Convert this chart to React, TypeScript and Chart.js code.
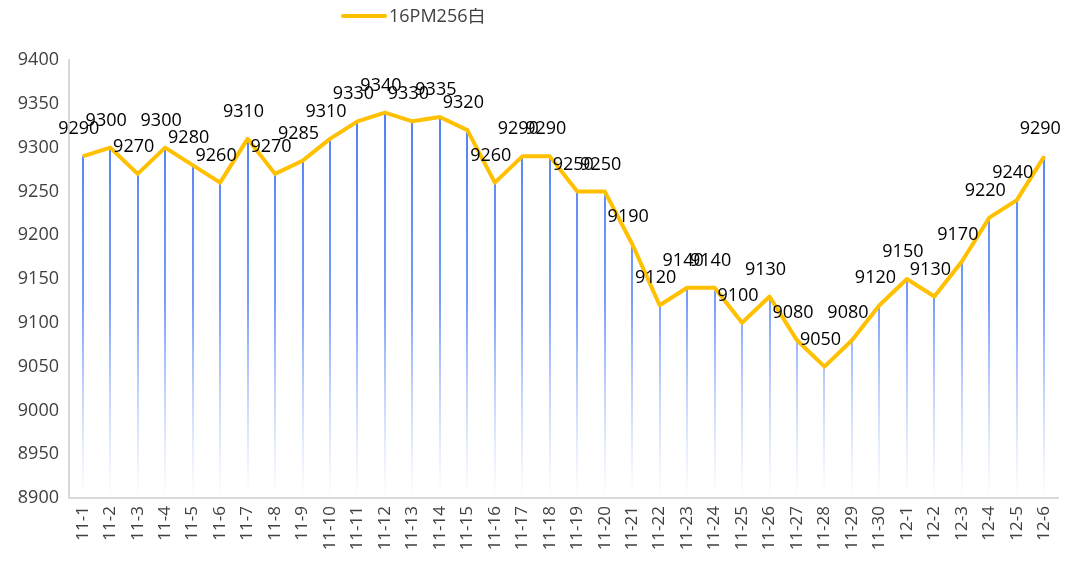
import React, { useEffect, useRef } from "react";
import { Chart, registerables } from "chart.js";

Chart.register(...registerables);

const categories = [
  "11-1", "11-2", "11-3", "11-4", "11-5", "11-6", "11-7", "11-8", "11-9", "11-10",
  "11-11", "11-12", "11-13", "11-14", "11-15", "11-16", "11-17", "11-18", "11-19", "11-20",
  "11-21", "11-22", "11-23", "11-24", "11-25", "11-26", "11-27", "11-28", "11-29", "11-30",
  "12-1", "12-2", "12-3", "12-4", "12-5", "12-6",
];

const prices = [
  9290, 9300, 9270, 9300, 9280, 9260, 9310, 9270, 9285, 9310,
  9330, 9340, 9330, 9335, 9320, 9260, 9290, 9290, 9250, 9250,
  9190, 9120, 9140, 9140, 9100, 9130, 9080, 9050, 9080, 9120,
  9150, 9130, 9170, 9220, 9240, 9290,
];

const seriesName = "16PM256白";
const yMin = 8900;
const yMax = 9400;
const yStep = 50;

const FONT = "'Open Sans', 'Noto Sans', 'Noto Sans CJK SC', sans-serif";

const dropLinePlugin = {
  id: "dropLines",
  beforeDatasetsDraw(chart: any) {
    const { ctx, chartArea } = chart;
    const meta = chart.getDatasetMeta(0);
    const grad = ctx.createLinearGradient(0, chartArea.top, 0, chartArea.bottom);
    grad.addColorStop(0, "rgba(70,120,245,1)");
    grad.addColorStop(0.55, "rgba(95,140,248,0.85)");
    grad.addColorStop(1, "rgba(150,180,250,0.0)");
    ctx.save();
    ctx.strokeStyle = grad;
    ctx.lineWidth = 2;
    meta.data.forEach((pt: any) => {
      ctx.beginPath();
      ctx.moveTo(Math.round(pt.x), pt.y);
      ctx.lineTo(Math.round(pt.x), chartArea.bottom);
      ctx.stroke();
    });
    ctx.restore();
  },
};

const labelPlugin = {
  id: "pointLabels",
  afterDatasetsDraw(chart: any) {
    const { ctx } = chart;
    const meta = chart.getDatasetMeta(0);
    const data = chart.data.datasets[0].data as number[];
    ctx.save();
    ctx.font = `18px ${FONT}`;
    ctx.fillStyle = "#000000";
    ctx.textAlign = "center";
    ctx.textBaseline = "bottom";
    meta.data.forEach((pt: any, i: number) => {
      ctx.fillText(String(data[i]), pt.x - 4, pt.y - 18);
    });
    ctx.restore();
  },
};

const legendPlugin = {
  id: "customLegend",
  afterDraw(chart: any) {
    const { ctx } = chart;
    ctx.save();
    ctx.strokeStyle = "#FFC000";
    ctx.lineWidth = 4;
    ctx.lineCap = "round";
    ctx.beginPath();
    ctx.moveTo(335, 8);
    ctx.lineTo(377, 8);
    ctx.stroke();
    ctx.font = `18px ${FONT}`;
    ctx.fillStyle = "#404040";
    ctx.textAlign = "left";
    ctx.textBaseline = "middle";
    ctx.fillText(seriesName, 381, 9);
    ctx.restore();
  },
};

export default function App() {
  const canvasRef = useRef<HTMLCanvasElement | null>(null);

  useEffect(() => {
    if (!canvasRef.current) return;
    const chart = new Chart(canvasRef.current, {
      type: "line",
      data: {
        labels: categories,
        datasets: [
          {
            label: seriesName,
            data: prices,
            borderColor: "#FFC000",
            backgroundColor: "#FFC000",
            borderWidth: 4,
            pointRadius: 0,
            tension: 0,
            borderJoinStyle: "round",
          },
        ],
      },
      options: {
        animation: false,
        responsive: true,
        maintainAspectRatio: false,
        layout: { padding: { top: 52, right: 8, left: 0, bottom: 0 } },
        plugins: {
          legend: { display: false },
          tooltip: { enabled: false },
        },
        scales: {
          x: {
            offset: true,
            grid: { display: false, drawTicks: false },
            border: { display: true, color: "#D9D9D9", width: 2 },
            ticks: {
              autoSkip: false,
              maxRotation: 90,
              minRotation: 90,
              padding: 8,
              color: "#404040",
              font: { size: 17, family: FONT },
            },
            afterFit(scale: any) {
              scale.height = 70;
              scale.paddingLeft = 0;
              scale.paddingRight = 0;
            },
          },
          y: {
            min: yMin,
            max: yMax,
            grid: { display: false, drawTicks: false },
            border: { display: true, color: "#D9D9D9", width: 2 },
            ticks: {
              stepSize: yStep,
              padding: 10,
              color: "#404040",
              font: { size: 18, family: FONT },
              callback: (v: any) => String(v),
            },
            afterFit(scale: any) {
              scale.width = 61;
            },
          },
        },
      },
      plugins: [dropLinePlugin, labelPlugin, legendPlugin],
    });
    return () => chart.destroy();
  }, []);

  return (
    <div style={{ width: 1058, height: 560, position: "relative" }}>
      <canvas ref={canvasRef} />
    </div>
  );
}
